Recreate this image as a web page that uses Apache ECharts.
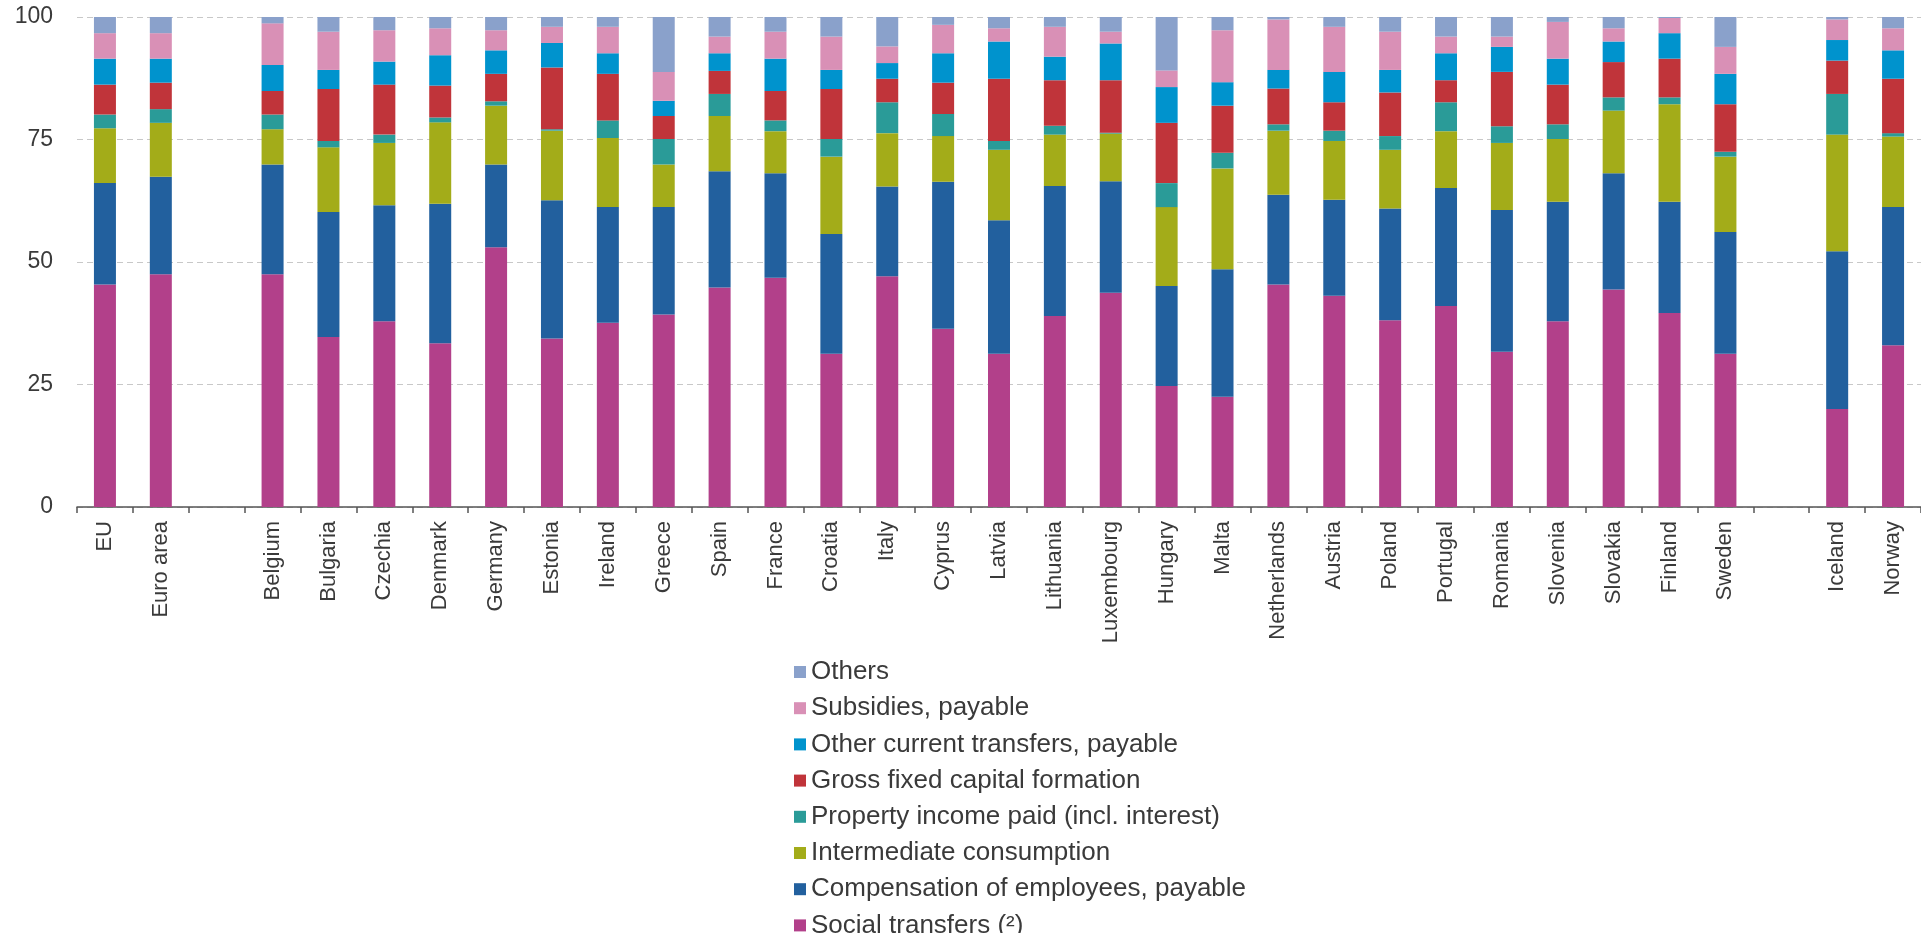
<!DOCTYPE html>
<html>
<head>
<meta charset="utf-8">
<script src="https://cdn.jsdelivr.net/npm/echarts@6/dist/echarts.min.js"></script>
<style>
html,body{margin:0;padding:0;background:#fff;}
#main{width:1921px;height:933px;}
</style>
</head>
<body>
<div id="main"></div>
<script>
var categories = ['EU','Euro area','','Belgium','Bulgaria','Czechia','Denmark','Germany','Estonia','Ireland','Greece','Spain','France','Croatia','Italy','Cyprus','Latvia','Lithuania','Luxembourg','Hungary','Malta','Netherlands','Austria','Poland','Portugal','Romania','Slovenia','Slovakia','Finland','Sweden','','Iceland','Norway'];

var yTicks = [0, 25, 50, 75, 100];

var socialTransfers = [45.4,47.5,null,47.5,34.7,37.9,33.4,53.0,34.4,37.6,39.3,44.8,46.8,31.3,47.1,36.4,31.3,39.0,43.7,24.7,22.5,45.4,43.1,38.1,41.0,31.7,37.9,44.4,39.6,31.3,null,20.0,33.0];
var compensation = [20.7,19.9,null,22.4,25.5,23.7,28.5,16.9,28.2,23.6,21.9,23.7,21.3,24.4,18.3,30.0,27.2,26.5,22.8,20.4,26.0,18.3,19.6,22.8,24.1,28.9,24.4,23.7,22.7,24.8,null,32.2,28.2];
var intermediate = [11.2,11.0,null,7.2,13.2,12.7,16.6,12.0,14.2,14.1,8.7,11.3,8.6,15.8,10.9,9.3,14.4,10.5,9.7,16.1,20.6,13.1,12.0,12.0,11.6,13.7,12.8,12.8,19.9,15.4,null,23.8,14.4];
var propertyIncome = [2.8,2.8,null,3.0,1.3,1.7,1.0,0.9,0.3,3.6,5.2,4.5,2.2,3.6,6.3,4.5,1.8,1.8,0.2,4.9,3.2,1.3,2.1,2.8,5.9,3.4,3.0,2.7,1.4,1.0,null,8.3,0.7];
var gfcf = [6.1,5.4,null,4.8,10.6,10.2,6.5,5.6,12.6,9.5,4.7,4.7,6.0,10.2,4.8,6.4,12.7,9.3,10.7,12.3,9.6,7.3,5.8,8.9,4.5,11.1,8.1,7.2,7.9,9.7,null,6.8,11.1];
var otherTransfers = [5.3,4.9,null,5.3,3.9,4.7,6.2,4.8,5.0,4.2,3.1,3.6,6.6,3.9,3.2,6.0,7.6,4.8,7.5,7.3,4.8,3.8,6.2,4.6,5.5,5.1,5.3,4.2,5.2,6.2,null,4.2,5.8];
var subsidies = [5.2,5.2,null,8.5,7.8,6.4,5.5,4.1,3.3,5.4,5.9,3.4,5.5,6.8,3.4,5.8,2.7,6.1,2.4,3.4,10.6,10.3,9.2,7.8,3.4,2.1,7.5,2.7,3.1,5.5,null,4.2,4.5];
var others = [3.3,3.3,null,1.3,3.0,2.7,2.3,2.7,2.0,2.0,11.2,4.0,3.0,4.0,6.0,1.6,2.3,2.0,3.0,10.9,2.7,0.5,2.0,3.0,4.0,4.0,1.0,2.3,0.3,6.1,null,0.5,2.3];

var seriesNames = ['Social transfers (\u00b2)','Compensation of employees, payable','Intermediate consumption','Property income paid (incl. interest)','Gross fixed capital formation','Other current transfers, payable','Subsidies, payable','Others'];
var seriesData = [socialTransfers, compensation, intermediate, propertyIncome, gfcf, otherTransfers, subsidies, others];
var seriesColors = ['#B2408A','#22609E','#A3AC19','#2A9B98','#C0343A','#0093CD','#D990B6','#8AA1CB'];

var font = 'Liberation Sans, Arial, sans-serif';
var chart = echarts.init(document.getElementById('main'), null, {renderer:'canvas'});

var series = seriesNames.map(function(n, i){
  return {
    name: n,
    type: 'bar',
    stack: 'total',
    barWidth: 22,
    data: seriesData[i],
    itemStyle: {color: seriesColors[i]},
    emphasis: {disabled: true}
  };
});

chart.setOption({
  animation: false,
  backgroundColor: '#ffffff',
  grid: {left: 77, top: 17, width: 1851, height: 490, containLabel: false},
  xAxis: {
    type: 'category',
    data: categories,
    axisLine: {show: true, lineStyle: {color: '#555555', width: 1.5}},
    axisTick: {show: true, interval: 0, length: 6, lineStyle: {color: '#555555', width: 1.5}},
    axisLabel: {interval: 0, rotate: 90, fontSize: 22, color: '#3a3a3a', fontFamily: font, margin: 14},
    splitLine: {show: false}
  },
  yAxis: {
    type: 'value',
    min: yTicks[0],
    max: yTicks[yTicks.length - 1],
    interval: 25,
    axisLine: {show: false},
    axisTick: {show: false},
    axisLabel: {fontSize: 23, color: '#3a3a3a', fontFamily: font, margin: 24},
    splitLine: {show: true, lineStyle: {color: '#c8c8c8', type: [6, 4], width: 1}}
  },
  legend: {
    orient: 'vertical',
    left: 794,
    top: 659,
    height: 320,
    padding: 0,
    itemWidth: 12,
    itemHeight: 12,
    itemGap: 10.2,
    icon: 'rect',
    data: seriesNames.slice().reverse(),
    textStyle: {fontSize: 26, color: '#3a3a3a', fontFamily: font},
    selectedMode: false
  },
  series: series
});
</script>
</body>
</html>
